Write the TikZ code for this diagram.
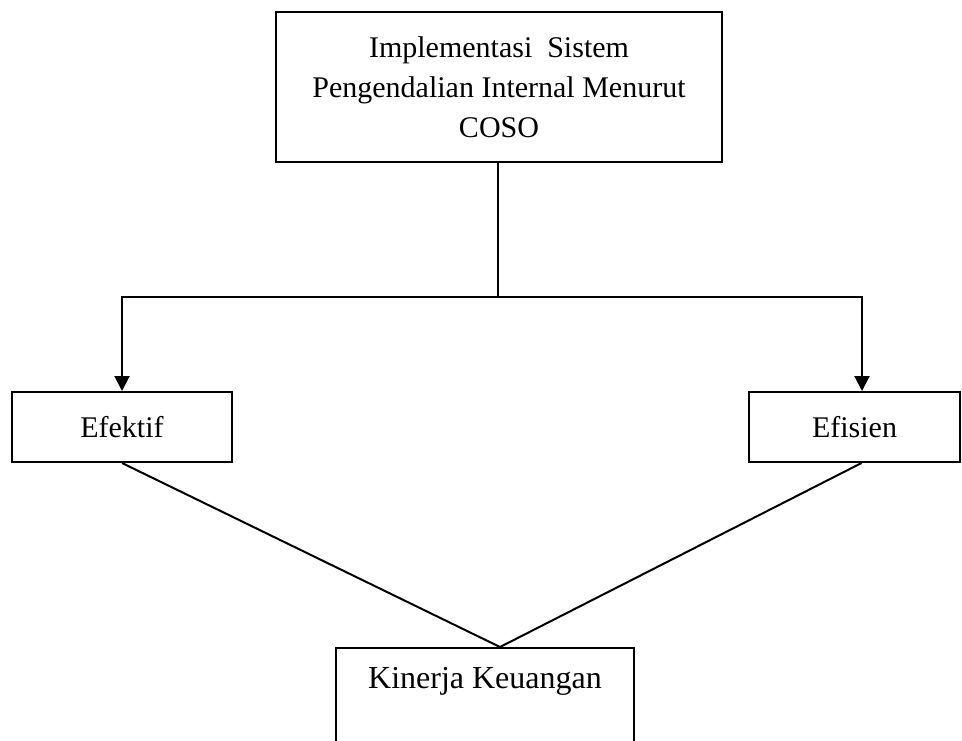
\documentclass[tikz,border=0pt]{standalone}
\usepackage{fontspec}
\setmainfont{Liberation Serif}
\usetikzlibrary{positioning,arrows.meta}

\begin{document}
\begin{tikzpicture}[x=0.5pt,y=-0.5pt,line width=1pt,
    box/.style={rectangle,draw,line width=1pt,font=\fontsize{15}{20}\selectfont,align=center,inner sep=0pt},
    arr/.style={-{Triangle[length=7.5pt,width=7.5pt]}}]
    \clip (0,0) rectangle (962,740);
    \node[box,minimum width=223pt,minimum height=75pt] (coso) at (499,87) {Implementasi\ \ Sistem\\Pengendalian Internal Menurut\\COSO};
    \node[box,minimum width=110pt,minimum height=35pt] (efektif) at (122,427) {Efektif};
    \node[box,minimum width=105.5pt,minimum height=35pt] (efisien) at (854.5,427) {Efisien};
    \node[box,anchor=north,minimum width=149pt,text height=11pt,text depth=60pt,inner ysep=9pt,font=\fontsize{16}{20}\selectfont] (kinerja) at (485,647) {Kinerja Keuangan};
    \coordinate (hub) at (498,297);
    \coordinate (apex) at ([xshift=7.5pt]kinerja.north);

    \draw (coso.south -| hub) -- (hub);
    \draw[arr] (hub) -| (efektif.north);
    \draw[arr] (hub) -| ([xshift=3.75pt]efisien.north);
    \draw (efektif.south) -- (apex);
    \draw ([xshift=3.5pt]efisien.south) -- (apex);
\end{tikzpicture}
\end{document}
